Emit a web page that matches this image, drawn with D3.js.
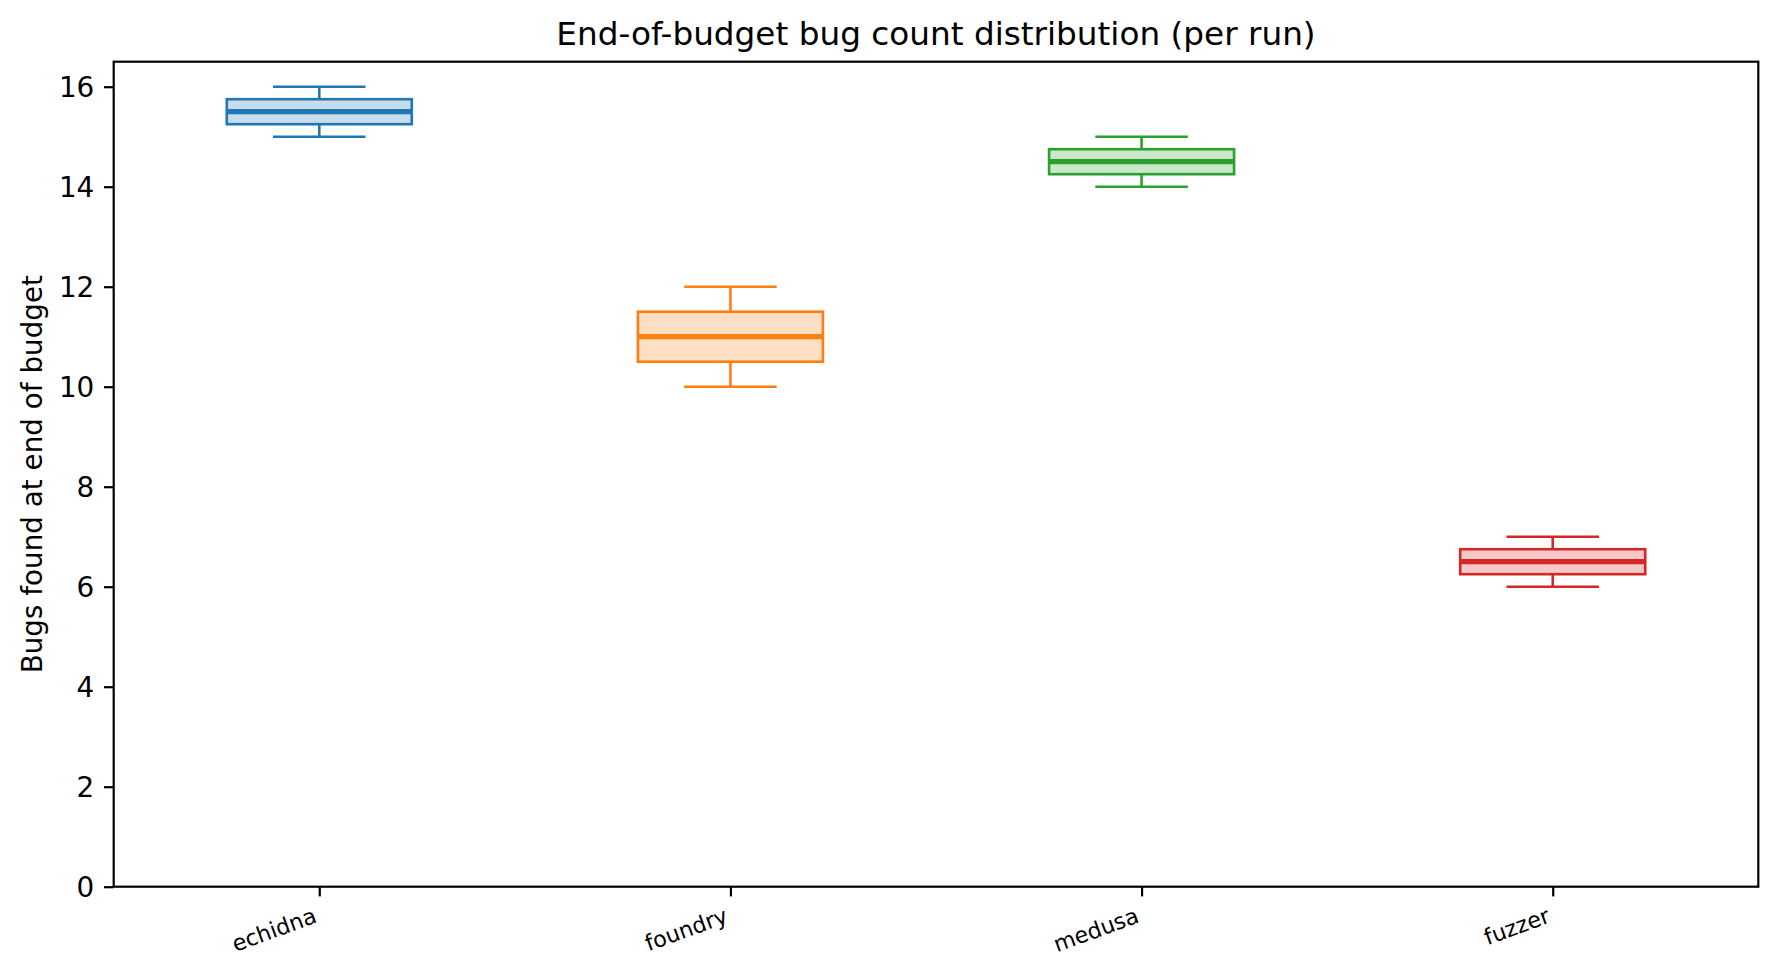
<!DOCTYPE html>
<html>
<head>
<meta charset="utf-8">
<script src="https://cdn.jsdelivr.net/npm/d3@7"></script>
<style>
  html, body { margin: 0; padding: 0; background: #ffffff; }
  svg { display: block; }
  text { font-family: "DejaVu Sans", sans-serif; fill: #000; }
</style>
</head>
<body>
<svg id="chart" width="1779" height="977"></svg>
<script>
// ---- data ----
const categories = ["echidna", "foundry", "medusa", "fuzzer"];
const whiskerLow  = [15, 10, 14, 6];
const q1          = [15.25, 10.5, 14.25, 6.25];
const medians     = [15.5, 11, 14.5, 6.5];
const q3          = [15.75, 11.5, 14.75, 6.75];
const whiskerHigh = [16, 12, 15, 7];
const colors = ["#1f77b4", "#ff7f0e", "#2ca02c", "#d62728"];
const yTicks = [0, 2, 4, 6, 8, 10, 12, 14, 16];
const title = "End-of-budget bug count distribution (per run)";
const yLabel = "Bugs found at end of budget";

// ---- layout ----
const W = 1779, H = 977;
const L = 113.7, R = 1758.3, T = 61.7, B = 886.7;
const svg = d3.select("#chart");

const x = d3.scaleLinear().domain([0.5, categories.length + 0.5]).range([L, R]);
const y = d3.scaleLinear().domain([0, 16.5]).range([B, T]);
const boxW = 0.45;
const bw = x(1 + boxW) - x(1);

const data = categories.map((c, i) => ({
  c, i, lo: whiskerLow[i], q1: q1[i], med: medians[i], q3: q3[i], hi: whiskerHigh[i], color: colors[i]
}));

const lw = 2.6;
const g = svg.append("g");
data.forEach(d => {
  const cx = x(d.i + 1);
  const gg = g.append("g");
  // box fill
  gg.append("rect")
    .attr("x", cx - bw / 2).attr("y", y(d.q3))
    .attr("width", bw).attr("height", y(d.q1) - y(d.q3))
    .attr("fill", d.color).attr("fill-opacity", 0.25)
    .attr("stroke", d.color).attr("stroke-width", lw);
  // whiskers
  gg.append("line").attr("x1", cx).attr("x2", cx).attr("y1", y(d.q3)).attr("y2", y(d.hi))
    .attr("stroke", d.color).attr("stroke-width", lw);
  gg.append("line").attr("x1", cx).attr("x2", cx).attr("y1", y(d.q1)).attr("y2", y(d.lo))
    .attr("stroke", d.color).attr("stroke-width", lw);
  // caps
  [d.hi, d.lo].forEach(v => {
    gg.append("line").attr("x1", cx - bw / 4).attr("x2", cx + bw / 4)
      .attr("y1", y(v)).attr("y2", y(v))
      .attr("stroke", d.color).attr("stroke-width", lw);
  });
  // median
  gg.append("line").attr("x1", cx - bw / 2).attr("x2", cx + bw / 2)
    .attr("y1", y(d.med)).attr("y2", y(d.med))
    .attr("stroke", d.color).attr("stroke-width", 5.2);
});

// ---- axes ----
const tickLen = 9.7, pad = 9.7;
const yAxis = d3.axisLeft(y).tickValues(yTicks).tickFormat(d3.format("d"))
  .tickSize(tickLen).tickPadding(pad);
const yg = svg.append("g").attr("transform", `translate(${L},0)`).call(yAxis);
yg.select(".domain").remove();
yg.selectAll(".tick line").attr("stroke", "#000").attr("stroke-width", 2.2);
yg.selectAll(".tick text").attr("font-size", 27.8).attr("font-family", "DejaVu Sans")
  .attr("dy", "0.34em").attr("fill", "#000");

const xAxis = d3.axisBottom(x).tickValues(categories.map((c, i) => i + 1))
  .tickFormat((d) => categories[d - 1]).tickSize(tickLen).tickPadding(0);
const xg = svg.append("g").attr("transform", `translate(0,${B})`).call(xAxis);
xg.select(".domain").remove();
xg.selectAll(".tick line").attr("stroke", "#000").attr("stroke-width", 2.2);
const xfs = 22.2;
const ang = 20 * Math.PI / 180;
const asc = 0.76 * xfs, desc = 0.24 * xfs;
xg.selectAll(".tick text")
  .attr("font-size", xfs).attr("font-family", "DejaVu Sans").attr("fill", "#000")
  .attr("text-anchor", "end").attr("dy", null).attr("y", null)
  .attr("transform", `translate(${-desc * Math.sin(ang)},${tickLen + pad + asc * Math.cos(ang)}) rotate(-20)`);

// spines
svg.append("rect").attr("x", L).attr("y", T).attr("width", R - L).attr("height", B - T)
  .attr("fill", "none").attr("stroke", "#000").attr("stroke-width", 2.2);

// title
svg.append("text").attr("x", (L + R) / 2).attr("y", 45)
  .attr("text-anchor", "middle").attr("font-size", 32.7).text(title);

// y label
svg.append("text")
  .attr("transform", `translate(42,${(T + B) / 2}) rotate(-90)`)
  .attr("text-anchor", "middle").attr("font-size", 27.8).text(yLabel);
</script>
</body>
</html>
